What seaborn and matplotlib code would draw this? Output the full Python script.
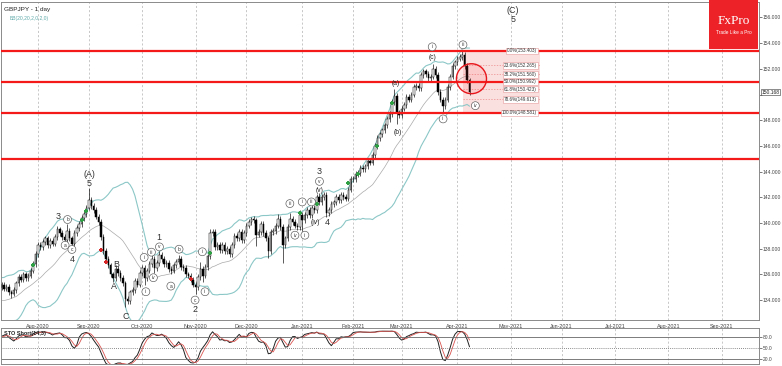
import numpy as np
import pandas as pd
import matplotlib
matplotlib.use("Agg")
import matplotlib.pyplot as plt
import matplotlib.transforms as mtransforms
import seaborn as sns
from matplotlib.patches import Rectangle, Ellipse

# ---------------- data ----------------
symbol_title = "GBPJPY - 1 day"
bb_title = "BB(20,20,2,0,2,0)"
sto_title = "STO Short(14,3)"

# daily closes 2020-06-15 .. 2020-07-10 (history used only for the indicators)
pre_closes = [134.2, 134.8, 134.0, 133.6, 133.1, 133.3, 133.9, 132.9, 132.7, 132.5,
              132.7, 133.4, 133.8, 133.9, 134.4, 135.2, 135.3, 134.8, 134.6, 135.0]

# daily closes 2020-07-13 .. 2021-04-08
closes_jul = [135.2, 134.9, 135.0, 134.6, 134.5, 134.8, 135.3, 135.8, 135.6, 136.0,
              135.7, 135.9, 136.3, 136.8, 137.6]
closes_aug = [138.3, 138.1, 138.5, 138.8, 138.3, 138.6, 138.4, 138.9, 139.5, 139.2,
              138.9, 138.7, 139.4, 138.8, 138.4, 139.2, 139.6, 139.9, 140.4, 140.7, 141.2]
closes_sep = [141.8, 141.3, 141.0, 140.5, 140.1, 138.9, 137.8, 137.2, 136.7, 136.0,
              135.7, 136.4, 136.1, 135.7, 135.3, 134.1, 133.9, 134.6, 134.8, 135.5,
              135.2, 136.1]
closes_oct = [136.5, 135.7, 136.3, 136.8, 137.2, 136.5, 136.9, 137.5, 137.2, 136.8,
              136.9, 136.4, 136.3, 136.7, 137.0, 137.2, 136.6, 136.5, 136.0, 135.9,
              135.6, 135.2]
closes_nov = [135.0, 135.8, 136.4, 135.9, 136.6, 137.4, 139.2, 139.3, 138.1, 138.3,
              137.9, 138.3, 137.8, 138.0, 137.6, 138.3, 139.0, 138.8, 139.3, 138.7, 139.2]
closes_dec = [139.8, 140.1, 140.3, 140.2, 139.1, 139.3, 139.9, 139.2, 138.8, 137.8,
              139.3, 139.4, 139.8, 140.3, 139.7, 138.3, 138.8, 139.7, 140.3, 140.1,
              139.8, 139.7, 140.6]
closes_jan = [140.2, 140.6, 141.0, 140.6, 141.2, 141.0, 142.0, 141.6, 142.0, 142.2,
              140.8, 141.0, 141.5, 141.6, 142.0, 141.8, 142.2, 142.0, 141.9, 142.6, 143.4]
closes_feb = [143.4, 143.8, 143.9, 144.3, 144.2, 144.4, 144.8, 144.7, 145.3, 146.0,
              146.6, 146.9, 147.2, 147.6, 148.1, 148.5, 149.4, 149.9, 148.6, 148.4]
closes_mar = [148.9, 149.2, 149.8, 149.6, 150.0, 150.6, 150.7, 150.5, 151.5, 151.8,
              151.6, 151.3, 151.4, 152.0, 151.5, 150.2, 149.6, 149.1, 149.6, 150.6,
              151.4, 152.2, 152.5]
closes_apr = [152.8, 152.9, 153.1, 152.2, 151.1, 150.168]

# notable wick extremes (bar number -> price)
high_marks = {23: 139.8, 27: 139.9, 36: 142.7, 47: 136.7, 62: 137.5, 65: 137.8,
              73: 137.5, 82: 137.0, 86: 139.5, 103: 140.5, 114: 140.7, 119: 140.8,
              123: 141.0, 131: 142.3, 162: 150.4, 178: 152.4, 190: 153.403}
low_marks = {4: 134.2, 29: 138.1, 46: 135.4, 51: 133.5, 59: 135.2, 63: 136.1,
             70: 136.0, 80: 134.5, 83: 135.4, 105: 138.2, 110: 137.3, 116: 136.9,
             124: 139.4, 134: 140.5, 163: 147.7, 182: 148.6}

res_levels = [153.403, 150.992, 148.581, 145.0]
fib_pct = ["0.0%", "23.6%", "38.2%", "50.0%", "61.8%", "78.6%", "100.0%"]
fib_price = [153.403, 152.265, 151.560, 150.992, 150.423, 149.613, 148.581]
last_price = 150.168

# Elliott wave labels: text, bar position, price, kind
wave_text = ["3", "b", "a", "c", "4", "(A)", "5", "B", "A", "C",
             "i", "ii", "iii", "iv", "v", "1", "a", "b", "c", "2",
             "i", "ii", "iii", "iv", "i", "ii", "iii", "(iv)", "4", "(v)",
             "v", "3", "(a)", "(b)", "(c)", "i", "ii", "iii", "iv", "(C)", "5"]
wave_x = [23.4, 27.2, 26.2, 29.0, 29.0, 36.1, 36.1, 47.4, 46.2, 51.2,
          58.8, 59.5, 61.8, 62.6, 65.1, 64.7, 69.8, 73.2, 79.8, 79.8,
          82.8, 83.9, 118.9, 121.0, 124.0, 125.1, 127.8, 129.2, 134.3, 131.1,
          131.1, 131.1, 162.4, 163.4, 177.6, 177.6, 182.1, 190.3, 195.4, 211.0, 211.0]
wave_y = [140.47, 140.27, 138.27, 137.94, 137.16, 143.78, 143.06, 136.78, 135.04, 132.70,
          137.32, 134.65, 137.73, 135.74, 138.14, 138.87, 135.09, 137.96, 134.00, 133.28,
          137.76, 134.65, 141.51, 139.05, 141.64, 139.05, 141.64, 140.00, 140.00, 142.54,
          143.24, 144.01, 150.82, 147.06, 152.88, 153.71, 148.10, 153.87, 149.13, 156.50, 155.80]
wave_kind = ["big", "circ", "circ", "circ", "big", "big", "big", "big", "big", "big",
             "circ", "circ", "circ", "circ", "circ", "big", "circ", "circ", "circ", "big",
             "circ", "circ", "circ", "circ", "circ", "circ", "circ", "paren", "big", "paren",
             "circ", "big", "paren", "paren", "paren", "circ", "circ", "circ", "circ", "big", "big"]

green_x = [13, 33, 35, 86, 123, 130, 143, 147, 155, 161]
green_y = [136.72, 140.21, 140.93, 137.67, 140.81, 141.51, 143.11, 143.84, 146.03, 149.31]
red_x = [41, 43, 78]
red_y = [137.89, 136.95, 135.64]

# ---------------- derived tables ----------------
closes = (closes_jul + closes_aug + closes_sep + closes_oct + closes_nov +
          closes_dec + closes_jan + closes_feb + closes_mar + closes_apr)
all_close = np.array(pre_closes + closes, dtype=float)
n_pre = len(pre_closes)
bars = np.arange(len(all_close)) - n_pre
opens = np.r_[all_close[0], all_close[:-1]]
wick = 0.22
highs = np.maximum(opens, all_close) + wick
lows = np.minimum(opens, all_close) - wick
for k, v in high_marks.items():
    highs[k + n_pre] = max(v, max(opens[k + n_pre], all_close[k + n_pre]))
for k, v in low_marks.items():
    lows[k + n_pre] = min(v, min(opens[k + n_pre], all_close[k + n_pre]))

df = pd.DataFrame({"bar": bars, "open": opens, "high": highs, "low": lows, "close": all_close})
mid = df["close"].rolling(20).mean()
sd = df["close"].rolling(20).std(ddof=0)
df["bb_mid"] = mid
df["bb_up"] = mid + 2 * sd
df["bb_lo"] = mid - 2 * sd
ll = df["low"].rolling(14).min()
hh = df["high"].rolling(14).max()
kraw = 100 * (df["close"] - ll) / (hh - ll)
df["sto_k"] = kraw.rolling(3).mean()
df["sto_d"] = df["sto_k"].rolling(3).mean()
vis = df[df["bar"] >= -1].copy()

cal = pd.bdate_range("2020-06-15", "2021-09-30")
cal_pos = pd.Series(np.arange(len(cal)) - n_pre, index=cal)
month_first = cal_pos.groupby([cal.year, cal.month]).head(1)
month_first = month_first[month_first.index >= "2020-08-01"]
month_pos = month_first.values
month_lab = [d.strftime("%b-%Y") for d in month_first.index]

# ---------------- figure ----------------
sns.set_style("white")
plt.rcParams["font.family"] = ["Liberation Sans", "DejaVu Sans"]

W, H = 782, 366
fig = plt.figure(figsize=(W / 100, H / 100), dpi=100)
ax = fig.add_axes([1 / W, 1 - 320 / H, 758 / W, 318 / H])
ax2 = fig.add_axes([1 / W, 2 / H, 758 / W, 36 / H])

x0, x1 = -0.25, 312.4
ax.set_xlim(x0, x1)
ax.set_ylim(132.45, 157.2)

# Bollinger bands
sns.lineplot(data=vis, x="bar", y="bb_up", ax=ax, color="#8cc7c7", lw=0.8, zorder=2)
sns.lineplot(data=vis, x="bar", y="bb_lo", ax=ax, color="#8cc7c7", lw=0.8, zorder=2)
sns.lineplot(data=vis, x="bar", y="bb_mid", ax=ax, color="#a9a9a9", lw=0.5, zorder=2)

# resistance / support lines
for lv in res_levels:
    ax.axhline(lv, color="#f41a1a", lw=1.6, zorder=4)

# fib box
fx0, fx1 = 190.4, 222.0
ax.add_patch(Rectangle((fx0, fib_price[-1]), fx1 - fx0, fib_price[0] - fib_price[-1],
                       facecolor="#fbe0e0", edgecolor="none", zorder=1))
for p, pct in zip(fib_price, fib_pct):
    ax.plot([fx0, fx1], [p, p], color="#ec8a8a", lw=0.5, ls=(0, (2, 2)), zorder=1.5)
    ax.text(fx1 - 1.2, p, f"{pct}({p:.3f})", fontsize=3.3, ha="right", va="center",
            color="#333333", zorder=6,
            bbox=dict(boxstyle="square,pad=0.15", fc="white", ec="#e59a9a", lw=0.4))

# candles
up = vis["close"] >= vis["open"]
ax.vlines(vis["bar"], vis["low"], vis["high"], color="black", lw=0.45, zorder=3)
body_h = np.maximum((vis["close"] - vis["open"]).abs(), 0.05)
ax.bar(vis["bar"], body_h, bottom=np.minimum(vis["open"], vis["close"]), width=0.62,
       color=np.where(up, "white", "black"), edgecolor="black", lw=0.35, zorder=3.5)

# fractal-like crosses
ax.scatter(green_x, green_y, marker="P", s=9, color="#2ea043", linewidths=0, zorder=5)
ax.scatter(red_x, red_y, marker="P", s=9, color="#d62728", linewidths=0, zorder=5)

# red circle
ax.add_patch(Ellipse((193.8, 151.23), 12.4, 2.33, facecolor=(1, 0.2, 0.2, 0.12),
                     edgecolor="#e8161b", lw=1.0, zorder=5))

# wave labels
for t, x, y, k in zip(wave_text, wave_x, wave_y, wave_kind):
    if k == "circ":
        ax.text(x, y, t, fontsize=3.5, ha="center", va="center", color="#333333", zorder=7,
                bbox=dict(boxstyle="circle,pad=0.3", fc="white", ec="#555555", lw=0.45))
    elif k == "paren":
        ax.text(x, y, t, fontsize=4.8, ha="center", va="center", color="#222222", zorder=7)
    else:
        ax.text(x, y, t, fontsize=6.4, ha="center", va="center", color="#333333", zorder=7)

# axes styling
ax.yaxis.tick_right()
yt = list(range(134, 157, 2))
ax.set_yticks(yt)
ax.set_yticklabels(["" if v == 150 else f"{v:.3f}" for v in yt])
ax.set_xticks(month_pos)
ax.set_xticklabels(month_lab)
ax.tick_params(axis="x", labelsize=3.9, length=2, pad=1, colors="#444444", width=0.5)
ax.tick_params(axis="y", labelsize=3.6, length=2, pad=0.8, colors="#444444", width=0.5)
ax.grid(axis="x", ls=(0, (3, 3)), color="#b0b0b0", lw=0.5)
ax.grid(axis="y", visible=False)
ax.set_xlabel("")
ax.set_ylabel("")
for s in ax.spines.values():
    s.set_color("#8a8a8a")
    s.set_linewidth(0.7)

trans = mtransforms.blended_transform_factory(ax.transAxes, ax.transData)
ax.text(1.003, last_price, f"{last_price:.3f}", transform=trans, fontsize=3.6, ha="left",
        va="center", color="#222222", clip_on=False,
        bbox=dict(boxstyle="square,pad=0.12", fc="white", ec="#333333", lw=0.4))

ax.text(0.004, 0.985, symbol_title, transform=ax.transAxes, fontsize=4.6, va="top",
        ha="left", color="#222222")
ax.text(0.012, 0.955, bb_title, transform=ax.transAxes, fontsize=3.6, va="top",
        ha="left", color="#5fa9a9")

# ---------------- stochastic panel ----------------
ax2.set_xlim(x0, x1)
ax2.set_ylim(6.4, 104.5)
sns.lineplot(data=vis, x="bar", y="sto_k", ax=ax2, color="#222222", lw=0.7)
sns.lineplot(data=vis, x="bar", y="sto_d", ax=ax2, color="#d9534f", lw=0.6)
ax2.axhline(80, color="#666666", lw=0.6)
ax2.axhline(20, color="#666666", lw=0.6)
ax2.axhline(50, color="#666666", lw=0.6, ls=(0, (1, 1.5)))
ax2.yaxis.tick_right()
ax2.set_yticks([20, 50, 80])
ax2.set_yticklabels(["20.0", "50.0", "80.0"])
ax2.set_xticks(month_pos)
ax2.set_xticklabels([])
ax2.tick_params(axis="both", labelsize=3.5, length=2, pad=0.8, colors="#444444", width=0.5)
ax2.grid(axis="x", ls=(0, (3, 3)), color="#b0b0b0", lw=0.5)
ax2.set_xlabel("")
ax2.set_ylabel("")
for s in ax2.spines.values():
    s.set_color("#8a8a8a")
    s.set_linewidth(0.7)
ax2.text(0.004, 0.93, sto_title, transform=ax2.transAxes, fontsize=4, va="top",
         ha="left", color="#222222", fontweight="bold")

# ---------------- logo ----------------
fig.patches.append(Rectangle((709 / W, 1 - 49 / H), 49 / W, 49 / H, transform=fig.transFigure,
                             facecolor="#ec2228", edgecolor="none", zorder=10))
fig.text(733.5 / W, 1 - 21 / H, "FxPro", color="white", fontsize=9.5, ha="center",
         va="center", family=["Liberation Serif", "DejaVu Serif"], zorder=11)
fig.text(733.5 / W, 1 - 33 / H, "Trade Like a Pro", color="white", fontsize=3.4,
         ha="center", va="center", zorder=11)

fig.savefig("out.png", dpi=100, facecolor="white")
